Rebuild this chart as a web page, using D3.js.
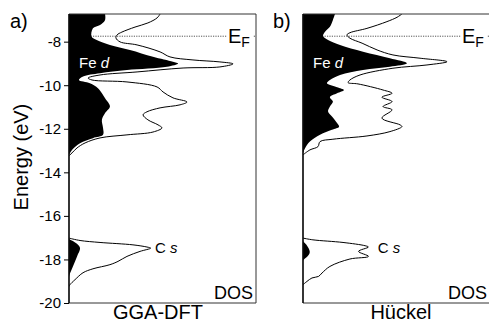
<!DOCTYPE html>
<html>
<head>
<meta charset="utf-8">
<script src="https://cdn.jsdelivr.net/npm/d3@7"></script>
<style>
  body { margin: 0; background: #fff; }
  svg { display: block; }
</style>
</head>
<body>
<svg width="489" height="324" font-family="Liberation Sans, Arial, sans-serif"></svg>
<script>
// energy axis
const energyTicks = [-8, -10, -12, -14, -16, -18, -20];
const energyRange = [-20, -6.73];
const fermiLevel = -7.75;

// GGA-DFT, [energy (eV), DOS (arb.)]
const ggaTotal = [
  [-6.73, 4.87], [-6.91, 4.71], [-7.14, 4.22], [-7.33, 3.53], [-7.56, 2.83], [-7.69, 2.57],
  [-7.83, 2.51], [-8.01, 2.73], [-8.15, 3.64], [-8.47, 4.87], [-8.70, 5.40], [-8.84, 6.63],
  [-8.93, 8.07], [-9.02, 8.77], [-9.16, 8.07], [-9.21, 6.10], [-9.39, 3.64], [-9.53, 1.66],
  [-9.67, 1.02], [-9.76, 1.23], [-9.85, 3.10], [-10.08, 4.71], [-10.31, 5.03], [-10.58, 5.56],
  [-10.77, 6.31], [-10.90, 5.94], [-11.04, 4.87], [-11.22, 4.17], [-11.36, 3.96], [-11.59, 4.22],
  [-11.82, 4.76], [-11.96, 4.97], [-12.15, 4.49], [-12.28, 3.10], [-12.42, 1.66], [-12.65, 0.86],
  [-12.88, 0.43], [-13.11, 0.16], [-13.24, 0]
];
const ggaFeD = [
  [-6.73, 1.93], [-7.00, 1.93], [-7.23, 1.66], [-7.38, 1.28], [-7.77, 1.21], [-7.92, 1.48],
  [-8.15, 2.19], [-8.38, 3.26], [-8.69, 4.49], [-8.92, 5.56], [-9.00, 5.83], [-9.15, 5.24],
  [-9.30, 3.10], [-9.45, 1.66], [-9.60, 0.75], [-9.76, 0.53], [-9.91, 1.12], [-10.14, 1.55],
  [-10.37, 1.76], [-10.60, 1.93], [-10.98, 2.19], [-11.28, 1.93], [-11.59, 1.76], [-11.97, 1.82],
  [-12.28, 1.82], [-12.43, 1.28], [-12.66, 0.59], [-12.97, 0.16], [-13.20, 0]
];
const ggaTotalC = [
  [-17.02, 0], [-17.13, 0.59], [-17.22, 1.66], [-17.33, 3.42], [-17.43, 4.17], [-17.48, 4.37],
  [-17.63, 3.80], [-17.86, 3.10], [-18.09, 2.62], [-18.24, 2.19], [-18.43, 1.28], [-18.61, 0.75],
  [-18.93, 0.32], [-19.16, 0.05], [-19.24, 0]
];
const ggaFeDC = [
  [-17.06, 0], [-17.25, 0.37], [-17.48, 0.59], [-17.86, 0.43], [-18.32, 0.21], [-18.70, 0.03], [-18.80, 0]
];

// Hückel
const huckelTotal = [
  [-6.73, 5.29], [-6.88, 5.03], [-7.08, 4.49], [-7.39, 3.42], [-7.59, 2.51], [-7.69, 2.35],
  [-7.84, 2.51], [-8.07, 3.16], [-8.38, 3.96], [-8.61, 4.81], [-8.76, 6.26], [-8.92, 7.70],
  [-9.07, 6.63], [-9.22, 4.81], [-9.53, 3.05], [-9.76, 2.51], [-9.88, 2.41], [-9.94, 2.94],
  [-10.22, 4.28], [-10.37, 4.76], [-10.55, 4.22], [-10.75, 4.76], [-10.98, 4.28], [-11.13, 4.76],
  [-11.51, 4.22], [-11.82, 5.19], [-11.90, 5.29], [-12.13, 4.65], [-12.33, 3.42], [-12.48, 1.60],
  [-12.59, 0.91], [-12.82, 0.80], [-12.97, 0.37], [-13.20, 0]
];
const huckelFeD = [
  [-6.73, 1.71], [-7.00, 1.60], [-7.31, 1.44], [-7.54, 1.18], [-7.74, 1.07], [-7.92, 1.34],
  [-8.15, 1.98], [-8.46, 3.21], [-8.76, 4.65], [-8.99, 5.56], [-9.15, 4.65], [-9.30, 3.21],
  [-9.53, 1.98], [-9.76, 1.44], [-9.91, 1.28], [-10.09, 1.82], [-10.22, 2.19], [-10.37, 1.82],
  [-10.55, 1.44], [-10.75, 1.60], [-10.98, 1.44], [-11.21, 1.34], [-11.44, 1.55], [-11.74, 1.82],
  [-11.91, 1.93], [-12.05, 1.55], [-12.28, 0.91], [-12.59, 0.37], [-12.89, 0.11], [-13.12, 0]
];
const huckelTotalC = [
  [-17.02, 0], [-17.10, 0.53], [-17.22, 2.14], [-17.37, 3.32], [-17.43, 3.50], [-17.63, 2.97],
  [-17.86, 3.50], [-17.98, 2.51], [-18.32, 1.44], [-18.62, 1.02], [-18.78, 0.83], [-18.85, 0.48],
  [-19.01, 0.21], [-19.16, 0]
];
const huckelFeDC = [
  [-17.17, 0], [-17.35, 0.20], [-17.63, 0.36], [-17.80, 0.30], [-18.00, 0.05], [-18.05, 0]
];

const svg = d3.select('svg');
const plotTop = 14, plotBottom = 303;
const y = d3.scaleLinear().domain(energyRange).range([plotBottom, plotTop]);

const panels = [
  { left: 69, tag: 'a)', name: 'GGA-DFT', nameX: 158, total: ggaTotal, feD: ggaFeD, totalC: ggaTotalC, feDC: ggaFeDC, csAt: 4.6, ticks: true },
  { left: 303, tag: 'b)', name: 'Hückel', nameX: 401, total: huckelTotal, feD: huckelFeD, totalC: huckelTotalC, feDC: huckelFeDC, csAt: 4.0, ticks: false }
];

panels.forEach((p, i) => {
  let right = p.left + 187;
  let x = d3.scaleLinear().domain([0, 10]).range([p.left, right]);
  let g = svg.append('g');

  g.append('clipPath').attr('id', 'clip' + i)
    .append('rect').attr('x', p.left).attr('y', plotTop).attr('width', right - p.left).attr('height', plotBottom - plotTop);

  // fermi level
  g.append('line')
    .attr('x1', p.left).attr('x2', right)
    .attr('y1', y(fermiLevel)).attr('y2', y(fermiLevel))
    .attr('stroke', '#555').attr('stroke-width', 1).attr('stroke-dasharray', '1.2,1.2');

  let area = d3.area().y(d => y(d[0])).x0(x(0)).x1(d => x(d[1])).curve(d3.curveCatmullRom.alpha(0.5));
  let line = d3.line().y(d => y(d[0])).x(d => x(d[1])).curve(d3.curveCatmullRom.alpha(0.5));

  let plot = g.append('g').attr('clip-path', `url(#clip${i})`);
  [p.feD, p.feDC].forEach(s => plot.append('path').datum(s).attr('d', area).attr('fill', '#000'));
  [p.total, p.totalC].forEach(s => plot.append('path').datum(s).attr('d', line)
    .attr('fill', 'none').attr('stroke', '#000').attr('stroke-width', 1));

  // frame
  g.append('path')
    .attr('d', `M${right},${plotTop}H${p.left}V${plotBottom}H${right}` + (p.ticks ? 'Z' : ''))
    .attr('fill', 'none').attr('stroke', '#333').attr('stroke-width', 1);
  g.append('line').attr('x1', p.left).attr('x2', p.left).attr('y1', plotTop).attr('y2', plotBottom)
    .attr('stroke', '#000').attr('stroke-width', 1.3);

  if (p.ticks) {
    let axis = d3.axisLeft(y).tickValues(energyTicks).tickSize(5).tickPadding(3).tickFormat(d => d);
    let ax = g.append('g').attr('transform', `translate(${p.left},0)`).call(axis);
    ax.attr('font-family', null);
    ax.select('.domain').remove();
    ax.selectAll('line').attr('stroke', '#000');
    ax.selectAll('text').attr('font-size', 15).attr('fill', '#000');
  }

  // E_F label
  let ef = y(fermiLevel);
  g.append('rect').attr('x', right - 29).attr('y', ef - 3).attr('width', 26).attr('height', 6).attr('fill', '#fff');
  let efText = g.append('text').attr('x', right - 28).attr('y', ef + 7).attr('font-size', 20);
  efText.append('tspan').text('E');
  efText.append('tspan').attr('dy', 4).attr('font-size', 14).text('F');

  // Fe d label
  let fe = g.append('text').attr('x', p.left + 10).attr('y', 68).attr('font-size', 15).attr('fill', '#fff');
  fe.append('tspan').text('Fe ');
  fe.append('tspan').attr('font-style', 'italic').text('d');

  // C s label
  let cs = g.append('text').attr('x', x(p.csAt)).attr('y', 253).attr('font-size', 15);
  cs.append('tspan').text('C ');
  cs.append('tspan').attr('font-style', 'italic').text('s');

  g.append('text').attr('x', right - 3).attr('y', 299).attr('text-anchor', 'end').attr('font-size', 18).text('DOS');
  g.append('text').attr('x', p.nameX).attr('y', 319).attr('text-anchor', 'middle').attr('font-size', 20).text(p.name);
  g.append('text').attr('x', p.left - (i ? 30 : 59)).attr('y', 28).attr('font-size', 20).text(p.tag);
});

svg.append('text')
  .attr('transform', `translate(28,${(y(-13) + y(-13.6)) / 2}) rotate(-90)`)
  .attr('text-anchor', 'middle').attr('font-size', 20).text('Energy (eV)');
</script>
</body>
</html>
